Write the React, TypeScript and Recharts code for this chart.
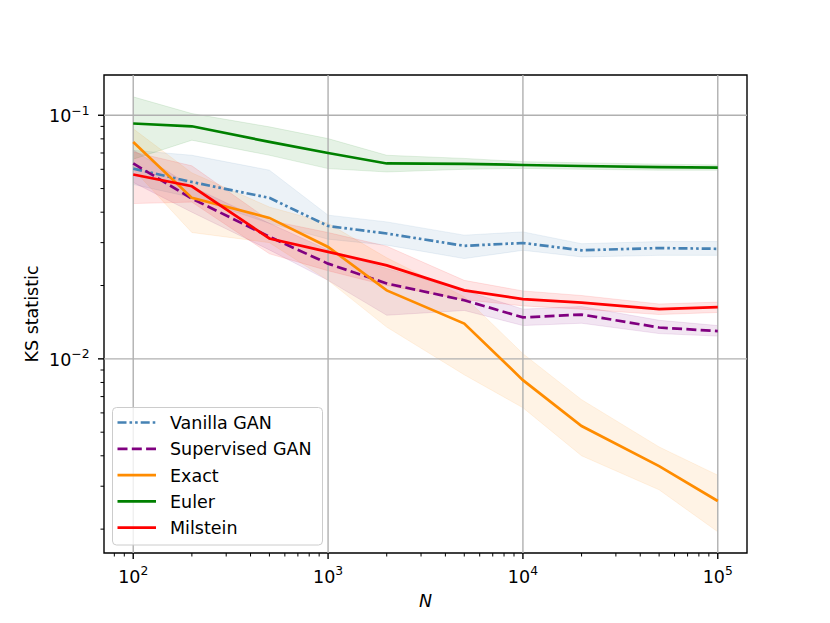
import React from 'react';
import {
  ComposedChart,
  Line,
  Area,
  XAxis,
  YAxis,
  ReferenceLine,
  ReferenceArea,
  Legend,
} from 'recharts';

// sample sizes
const N = [100, 200, 500, 1000, 2000, 5000, 10000, 20000, 50000, 100000];

// KS statistic per method (mean) and the shaded spread (low / high)
const vanilla = [0.0604, 0.0532, 0.0458, 0.0351, 0.0327, 0.0291, 0.0299, 0.0279, 0.0285, 0.0283];
const vanillaLo = [0.052, 0.046, 0.036, 0.031, 0.0293, 0.0258, 0.0279, 0.0262, 0.0266, 0.0266];
const vanillaHi = [0.0718, 0.0685, 0.0595, 0.0389, 0.0365, 0.0322, 0.0332, 0.0297, 0.0303, 0.0303];

const supervised = [0.0634, 0.0455, 0.0317, 0.0246, 0.0204, 0.0174, 0.0148, 0.0152, 0.01345, 0.013];
const supervisedLo = [0.053, 0.04, 0.028, 0.021, 0.0151, 0.0158, 0.0137, 0.014, 0.0127, 0.0124];
const supervisedHi = [0.072, 0.051, 0.036, 0.028, 0.0235, 0.0191, 0.016, 0.0164, 0.0144, 0.0137];

const exact = [0.0777, 0.0458, 0.0379, 0.0288, 0.0191, 0.01396, 0.00818, 0.0053, 0.00363, 0.00261];
const exactLo = [0.06, 0.033, 0.03, 0.021, 0.0135, 0.0086, 0.0063, 0.004, 0.0029, 0.00195];
const exactHi = [0.088, 0.058, 0.042, 0.036, 0.026, 0.018, 0.0105, 0.0068, 0.00435, 0.00333];

const euler = [0.0925, 0.0901, 0.0777, 0.07, 0.0634, 0.0632, 0.0625, 0.0619, 0.0612, 0.061];
const eulerLo = [0.066, 0.079, 0.0685, 0.0604, 0.0585, 0.06, 0.0605, 0.06, 0.0595, 0.0595];
const eulerHi = [0.119, 0.1016, 0.0896, 0.0802, 0.0685, 0.0665, 0.0645, 0.0638, 0.063, 0.0625];

const milstein = [0.0571, 0.0511, 0.0312, 0.0275, 0.0242, 0.0191, 0.0176, 0.017, 0.016, 0.0163];
const milsteinLo = [0.0434, 0.044, 0.027, 0.023, 0.02, 0.0175, 0.0165, 0.016, 0.0152, 0.0155];
const milsteinHi = [0.0707, 0.062, 0.037, 0.033, 0.029, 0.021, 0.019, 0.0182, 0.0168, 0.0171];

// axis ticks
const xMajor = [100, 1000, 10000, 100000];
const xMinor = [80, 90, 200, 300, 400, 500, 600, 700, 800, 900, 2000, 3000, 4000, 5000, 6000, 7000, 8000, 9000,
  20000, 30000, 40000, 50000, 60000, 70000, 80000, 90000];
const yMajor = [0.01, 0.1];
const yMinor = [0.002, 0.003, 0.004, 0.005, 0.006, 0.007, 0.008, 0.009,
  0.02, 0.03, 0.04, 0.05, 0.06, 0.07, 0.08, 0.09];

const xDomain = [70.8, 141254];
const yDomain = [0.001596, 0.1463];

const series = [
  { key: 'vanilla', name: 'Vanilla GAN', color: '#4682b4', dash: '9 3 2.6 3 2.6 3' },
  { key: 'supervised', name: 'Supervised GAN', color: '#800080', dash: '10 4.3' },
  { key: 'exact', name: 'Exact', color: '#ff8c00', dash: undefined },
  { key: 'euler', name: 'Euler', color: '#008000', dash: undefined },
  { key: 'milstein', name: 'Milstein', color: '#ff0000', dash: undefined },
];

const data = N.map((n, i) => ({
  n,
  vanilla: vanilla[i],
  vanillaBand: [vanillaLo[i], vanillaHi[i]],
  supervised: supervised[i],
  supervisedBand: [supervisedLo[i], supervisedHi[i]],
  exact: exact[i],
  exactBand: [exactLo[i], exactHi[i]],
  euler: euler[i],
  eulerBand: [eulerLo[i], eulerHi[i]],
  milstein: milstein[i],
  milsteinBand: [milsteinLo[i], milsteinHi[i]],
}));

const FONT = '"DejaVu Sans", sans-serif';

const XTick = (props: any) => {
  const { x, y, payload } = props;
  const v = payload.value;
  const major = xMajor.includes(v);
  return (
    <g>
      <line x1={x} x2={x} y1={y} y2={y + (major ? 6 : 3.5)} stroke="#000" strokeWidth={major ? 1.4 : 1} />
      {major && (
        <text x={x} y={y + 29.5} textAnchor="middle" fontFamily={FONT} fontSize={17.5} fill="#000">
          <tspan>10</tspan>
          <tspan dy={-7.5} fontSize={12.3}>{Math.round(Math.log10(v))}</tspan>
        </text>
      )}
    </g>
  );
};

const YTick = (props: any) => {
  const { x, y, payload } = props;
  const v = payload.value;
  const major = yMajor.some((m) => Math.abs(m - v) < 1e-9);
  return (
    <g>
      <line x1={x - (major ? 6 : 3.5)} x2={x} y1={y} y2={y} stroke="#000" strokeWidth={major ? 1.4 : 1} />
      {major && (
        <text x={x - 14.5} y={y + 6.8} textAnchor="end" fontFamily={FONT} fontSize={17.5} fill="#000">
          <tspan>10</tspan>
          <tspan dy={-7.5} fontSize={12.3}>{'\u2212' + Math.round(-Math.log10(v))}</tspan>
        </text>
      )}
    </g>
  );
};

const renderLegend = () => (
  <svg width={212} height={140} style={{ display: 'block' }}>
    <rect x={0.5} y={0.5} width={210} height={137.5} rx={4} fill="#fff" fillOpacity={0.8} stroke="#cccccc" strokeWidth={1} />
    {series.map((s, i) => {
      const cy = 15.5 + i * 26.3;
      return (
        <g key={s.key}>
          <line x1={5.5} x2={44} y1={cy} y2={cy} stroke={s.color} strokeWidth={2.7} strokeDasharray={s.dash} />
          <text x={58} y={cy + 6.4} fontFamily={FONT} fontSize={17.5} fill="#000">{s.name}</text>
        </g>
      );
    })}
  </svg>
);

export default function App() {
  return (
    <div style={{ position: 'absolute', left: 0, top: 0, width: 830, height: 623, background: '#fff' }}>
      <ComposedChart width={830} height={623} data={data} margin={{ top: 75, right: 83, bottom: 0, left: 0 }}>
        <XAxis
          dataKey="n"
          type="number"
          scale="log"
          domain={xDomain}
          allowDataOverflow
          ticks={[...xMajor, ...xMinor].sort((a, b) => a - b)}
          interval={0}
          tick={<XTick />}
          tickSize={0}
          tickMargin={0}
          axisLine={false}
          tickLine={false}
          height={70}
          label={{
            content: ({ viewBox }: any) => (
              <text x={viewBox.x + viewBox.width / 2} y={viewBox.y + 54} textAnchor="middle"
                fontFamily={FONT} fontStyle="italic" fontSize={17.5} fill="#000">N</text>
            ),
          }}
        />
        <YAxis
          type="number"
          scale="log"
          domain={yDomain}
          allowDataOverflow
          ticks={[...yMinor, ...yMajor].sort((a, b) => a - b)}
          interval={0}
          tick={<YTick />}
          tickSize={0}
          tickMargin={0}
          axisLine={false}
          tickLine={false}
          width={104}
          label={{
            content: ({ viewBox }: any) => {
              const lx = viewBox.x + 38.3;
              const ly = viewBox.y + viewBox.height / 2;
              return (
                <text x={lx} y={ly} transform={`rotate(-90, ${lx}, ${ly})`} textAnchor="middle"
                  fontFamily={FONT} fontSize={17.5} fill="#000">KS statistic</text>
              );
            },
          }}
        />

        {xMajor.map((v) => (
          <ReferenceLine key={'gx' + v} x={v} stroke="#b0b0b0" strokeWidth={1.4} />
        ))}
        {yMajor.map((v) => (
          <ReferenceLine key={'gy' + v} y={v} stroke="#b0b0b0" strokeWidth={1.4} />
        ))}

        {series.map((s) => (
          <Area
            key={s.key + 'Band'}
            dataKey={s.key + 'Band'}
            type="linear"
            fill={s.color}
            fillOpacity={0.1}
            stroke={s.color}
            strokeOpacity={0.1}
            strokeWidth={1}
            dot={false}
            activeDot={false}
            legendType="none"
            isAnimationActive={false}
          />
        ))}
        {series.map((s) => (
          <Line
            key={s.key}
            dataKey={s.key}
            name={s.name}
            type="linear"
            stroke={s.color}
            strokeWidth={2.7}
            strokeDasharray={s.dash}
            dot={false}
            activeDot={false}
            isAnimationActive={false}
          />
        ))}

        <ReferenceArea
          x1={xDomain[0]}
          x2={xDomain[1]}
          y1={yDomain[0]}
          y2={yDomain[1]}
          fill="none"
          stroke="#000"
          strokeWidth={1.4}
          ifOverflow="visible"
        />

        <Legend
          layout="vertical"
          align="center"
          verticalAlign="middle"
          content={renderLegend}
          wrapperStyle={{ left: 112, top: 407, width: 212, height: 140 }}
        />
      </ComposedChart>
    </div>
  );
}
